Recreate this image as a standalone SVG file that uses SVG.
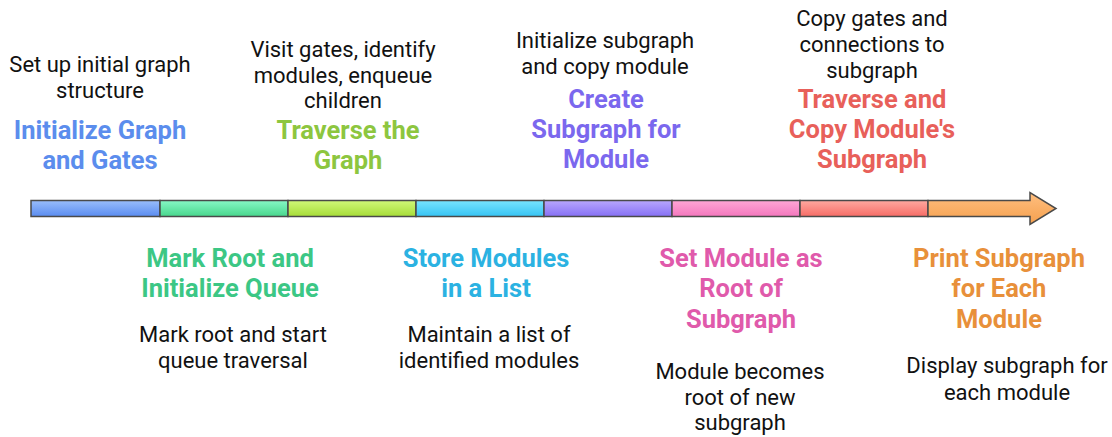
<svg xmlns="http://www.w3.org/2000/svg" width="1112" height="437" viewBox="0 0 1112 437">
  <defs>
    <linearGradient id="gBlue" x1="0" y1="0" x2="0" y2="1"><stop offset="0" stop-color="#99bdfb"/><stop offset="1" stop-color="#5a8cf0"/></linearGradient>
    <linearGradient id="gGreen" x1="0" y1="0" x2="0" y2="1"><stop offset="0" stop-color="#86f8c6"/><stop offset="1" stop-color="#48d68c"/></linearGradient>
    <linearGradient id="gLime" x1="0" y1="0" x2="0" y2="1"><stop offset="0" stop-color="#d0f878"/><stop offset="1" stop-color="#a6dc38"/></linearGradient>
    <linearGradient id="gCyan" x1="0" y1="0" x2="0" y2="1"><stop offset="0" stop-color="#78e4ff"/><stop offset="1" stop-color="#36c4f4"/></linearGradient>
    <linearGradient id="gPurple" x1="0" y1="0" x2="0" y2="1"><stop offset="0" stop-color="#b8a6fd"/><stop offset="1" stop-color="#8670f4"/></linearGradient>
    <linearGradient id="gPink" x1="0" y1="0" x2="0" y2="1"><stop offset="0" stop-color="#ffa6d6"/><stop offset="1" stop-color="#f477bd"/></linearGradient>
    <linearGradient id="gRed" x1="0" y1="0" x2="0" y2="1"><stop offset="0" stop-color="#ffa9a0"/><stop offset="1" stop-color="#f66c66"/></linearGradient>
    <linearGradient id="gOrange" x1="0" y1="0" x2="0" y2="1"><stop offset="0" stop-color="#ffbf80"/><stop offset="1" stop-color="#f5a04e"/></linearGradient>
  </defs>
  <style>
    .seg { stroke: #4a4a4a; stroke-width: 1.5; stroke-linejoin: miter; }
    text { font-family: Roboto, "Liberation Sans", sans-serif; text-anchor: middle; }
    .title { font-size: 25.5px; font-weight: bold; }
    .desc { font-size: 22px; fill: #111111; }
  </style>

  <!-- timeline bar -->
  <g id="timeline">
    <rect class="seg" x="31" y="200.5" width="129" height="16" fill="url(#gBlue)"/>
    <rect class="seg" x="160" y="200.5" width="128" height="16" fill="url(#gGreen)"/>
    <rect class="seg" x="288" y="200.5" width="128" height="16" fill="url(#gLime)"/>
    <rect class="seg" x="416" y="200.5" width="128" height="16" fill="url(#gCyan)"/>
    <rect class="seg" x="544" y="200.5" width="128" height="16" fill="url(#gPurple)"/>
    <rect class="seg" x="672" y="200.5" width="128" height="16" fill="url(#gPink)"/>
    <rect class="seg" x="800" y="200.5" width="128" height="16" fill="url(#gRed)"/>
    <path class="seg" d="M928 200.5 H1030 V192.5 L1056 208.5 L1030 224.5 V216.5 H928 Z" fill="url(#gOrange)"/>
  </g>

  <!-- steps above the bar -->
  <g id="step1">
    <text class="desc" x="100" y="72">Set up initial graph</text>
    <text class="desc" x="100" y="98">structure</text>
    <text class="title" x="100" y="139" fill="#5b8ded">Initialize Graph</text>
    <text class="title" x="100" y="169" fill="#5b8ded">and Gates</text>
  </g>
  <g id="step3">
    <text class="desc" x="343" y="57">Visit gates, identify</text>
    <text class="desc" x="343" y="83">modules, enqueue</text>
    <text class="desc" x="343" y="108">children</text>
    <text class="title" x="348" y="139" fill="#8dc63f">Traverse the</text>
    <text class="title" x="348" y="169" fill="#8dc63f">Graph</text>
  </g>
  <g id="step5">
    <text class="desc" x="605" y="48">Initialize subgraph</text>
    <text class="desc" x="605" y="74">and copy module</text>
    <text class="title" x="606" y="108" fill="#7b68ee">Create</text>
    <text class="title" x="606" y="138" fill="#7b68ee">Subgraph for</text>
    <text class="title" x="606" y="168" fill="#7b68ee">Module</text>
  </g>
  <g id="step7">
    <text class="desc" x="872" y="26">Copy gates and</text>
    <text class="desc" x="872" y="52">connections to</text>
    <text class="desc" x="872" y="78">subgraph</text>
    <text class="title" x="872" y="108" fill="#e8605a">Traverse and</text>
    <text class="title" x="872" y="138" fill="#e8605a">Copy Module's</text>
    <text class="title" x="872" y="168" fill="#e8605a">Subgraph</text>
  </g>

  <!-- steps below the bar -->
  <g id="step2">
    <text class="title" x="230" y="267" fill="#3cc785">Mark Root and</text>
    <text class="title" x="230" y="297" fill="#3cc785">Initialize Queue</text>
    <text class="desc" x="233" y="342">Mark root and start</text>
    <text class="desc" x="233" y="368">queue traversal</text>
  </g>
  <g id="step4">
    <text class="title" x="486" y="267" fill="#2bb2e2">Store Modules</text>
    <text class="title" x="486" y="297" fill="#2bb2e2">in a List</text>
    <text class="desc" x="489" y="342">Maintain a list of</text>
    <text class="desc" x="489" y="368">identified modules</text>
  </g>
  <g id="step6">
    <text class="title" x="741" y="267" fill="#e05aab">Set Module as</text>
    <text class="title" x="741" y="297" fill="#e05aab">Root of</text>
    <text class="title" x="741" y="328" fill="#e05aab">Subgraph</text>
    <text class="desc" x="740" y="379">Module becomes</text>
    <text class="desc" x="740" y="405">root of new</text>
    <text class="desc" x="740" y="430">subgraph</text>
  </g>
  <g id="step8">
    <text class="title" x="999" y="267" fill="#e8903a">Print Subgraph</text>
    <text class="title" x="999" y="297" fill="#e8903a">for Each</text>
    <text class="title" x="999" y="328" fill="#e8903a">Module</text>
    <text class="desc" x="1007" y="373">Display subgraph for</text>
    <text class="desc" x="1007" y="400">each module</text>
  </g>
</svg>
